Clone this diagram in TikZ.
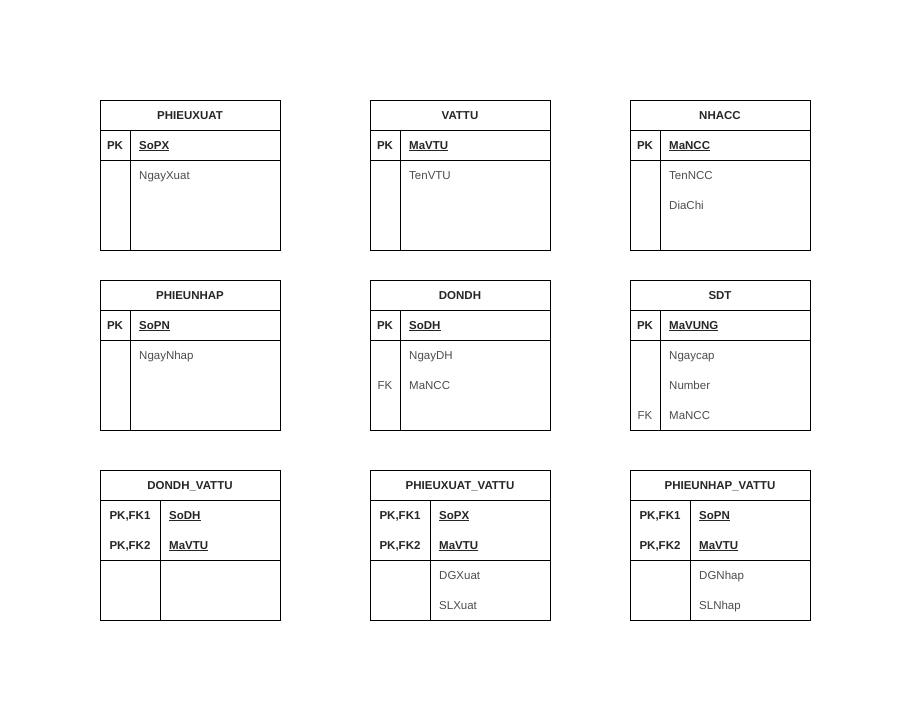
\documentclass[tikz,border=0pt]{standalone}
\usepackage{fontspec}
\setmainfont{Liberation Sans}
\usepackage{tikz}

\tikzset{
  box/.style={draw=black,line width=0.9pt},
  hdr/.style={font=\fontsize{11.5}{13}\selectfont\bfseries,text=black!85,inner sep=0pt,text height=10pt,text depth=1.8pt},
  keytag/.style={font=\fontsize{11.5}{13}\selectfont\bfseries,text=black!85,inner sep=0pt,text height=10pt,text depth=1.8pt},
  keyfld/.style={anchor=west,font=\fontsize{11.5}{13}\selectfont\bfseries,text=black!85,inner sep=0pt,text height=10pt,text depth=1.8pt},
  attr/.style={anchor=west,font=\fontsize{11.5}{13}\selectfont,text=black!70,inner sep=0pt,text height=10pt,text depth=1.8pt},
  fktag/.style={font=\fontsize{11.5}{13}\selectfont,text=black!70,inner sep=0pt,text height=10pt,text depth=1.8pt}
}

\begin{document}
\begin{tikzpicture}[x=1pt,y=-1pt]
\useasboundingbox (0,0) rectangle (911,721);

\draw [box] (100,100) rectangle (280,250);
\draw [box] (100,130) -- (280,130);
\draw [box] (100,160) -- (280,160);
\draw [box] (130,130) -- (130,250);
\node [hdr] (pxTitle) at (190,115) {PHIEUXUAT};
\node [keytag] (pxPK) at (115,145) {PK};
\node [keyfld] (pxSoPX) at (139,145) {\underline{SoPX}};
\node [attr] (pxNgay) at (139,175) {NgayXuat};

\draw [box] (370,100) rectangle (550,250);
\draw [box] (370,130) -- (550,130);
\draw [box] (370,160) -- (550,160);
\draw [box] (400,130) -- (400,250);
\node [hdr] (vtTitle) at (460,115) {VATTU};
\node [keytag] (vtPK) at (385,145) {PK};
\node [keyfld] (vtMa) at (409,145) {\underline{MaVTU}};
\node [attr] (vtTen) at (409,175) {TenVTU};

\draw [box] (630,100) rectangle (810,250);
\draw [box] (630,130) -- (810,130);
\draw [box] (630,160) -- (810,160);
\draw [box] (660,130) -- (660,250);
\node [hdr] (nccTitle) at (720,115) {NHACC};
\node [keytag] (nccPK) at (645,145) {PK};
\node [keyfld] (nccMa) at (669,145) {\underline{MaNCC}};
\node [attr] (nccTen) at (669,175) {TenNCC};
\node [attr] (nccDia) at (669,205) {DiaChi};

\draw [box] (100,280) rectangle (280,430);
\draw [box] (100,310) -- (280,310);
\draw [box] (100,340) -- (280,340);
\draw [box] (130,310) -- (130,430);
\node [hdr] (pnTitle) at (190,295) {PHIEUNHAP};
\node [keytag] (pnPK) at (115,325) {PK};
\node [keyfld] (pnSoPN) at (139,325) {\underline{SoPN}};
\node [attr] (pnNgay) at (139,355) {NgayNhap};

\draw [box] (370,280) rectangle (550,430);
\draw [box] (370,310) -- (550,310);
\draw [box] (370,340) -- (550,340);
\draw [box] (400,310) -- (400,430);
\node [hdr] (ddhTitle) at (460,295) {DONDH};
\node [keytag] (ddhPK) at (385,325) {PK};
\node [keyfld] (ddhSo) at (409,325) {\underline{SoDH}};
\node [attr] (ddhNgay) at (409,355) {NgayDH};
\node [fktag] (ddhFK) at (385,385) {FK};
\node [attr] (ddhNcc) at (409,385) {MaNCC};

\draw [box] (630,280) rectangle (810,430);
\draw [box] (630,310) -- (810,310);
\draw [box] (630,340) -- (810,340);
\draw [box] (660,310) -- (660,430);
\node [hdr] (sdtTitle) at (720,295) {SDT};
\node [keytag] (sdtPK) at (645,325) {PK};
\node [keyfld] (sdtVung) at (669,325) {\underline{MaVUNG}};
\node [attr] (sdtCap) at (669,355) {Ngaycap};
\node [attr] (sdtNum) at (669,385) {Number};
\node [fktag] (sdtFK) at (645,415) {FK};
\node [attr] (sdtNcc) at (669,415) {MaNCC};

\draw [box] (100,470) rectangle (280,620);
\draw [box] (100,500) -- (280,500);
\draw [box] (100,560) -- (280,560);
\draw [box] (160,500) -- (160,620);
\node [hdr] (dvTitle) at (190,485) {DONDH\_VATTU};
\node [keytag] (dvK1) at (130,515) {PK,FK1};
\node [keyfld] (dvSo) at (169,515) {\underline{SoDH}};
\node [keytag] (dvK2) at (130,545) {PK,FK2};
\node [keyfld] (dvMa) at (169,545) {\underline{MaVTU}};

\draw [box] (370,470) rectangle (550,620);
\draw [box] (370,500) -- (550,500);
\draw [box] (370,560) -- (550,560);
\draw [box] (430,500) -- (430,620);
\node [hdr] (pxvTitle) at (460,485) {PHIEUXUAT\_VATTU};
\node [keytag] (pxvK1) at (400,515) {PK,FK1};
\node [keyfld] (pxvSo) at (439,515) {\underline{SoPX}};
\node [keytag] (pxvK2) at (400,545) {PK,FK2};
\node [keyfld] (pxvMa) at (439,545) {\underline{MaVTU}};
\node [attr] (pxvDG) at (439,575) {DGXuat};
\node [attr] (pxvSL) at (439,605) {SLXuat};

\draw [box] (630,470) rectangle (810,620);
\draw [box] (630,500) -- (810,500);
\draw [box] (630,560) -- (810,560);
\draw [box] (690,500) -- (690,620);
\node [hdr] (pnvTitle) at (720,485) {PHIEUNHAP\_VATTU};
\node [keytag] (pnvK1) at (660,515) {PK,FK1};
\node [keyfld] (pnvSo) at (699,515) {\underline{SoPN}};
\node [keytag] (pnvK2) at (660,545) {PK,FK2};
\node [keyfld] (pnvMa) at (699,545) {\underline{MaVTU}};
\node [attr] (pnvDG) at (699,575) {DGNhap};
\node [attr] (pnvSL) at (699,605) {SLNhap};

\end{tikzpicture}
\end{document}
